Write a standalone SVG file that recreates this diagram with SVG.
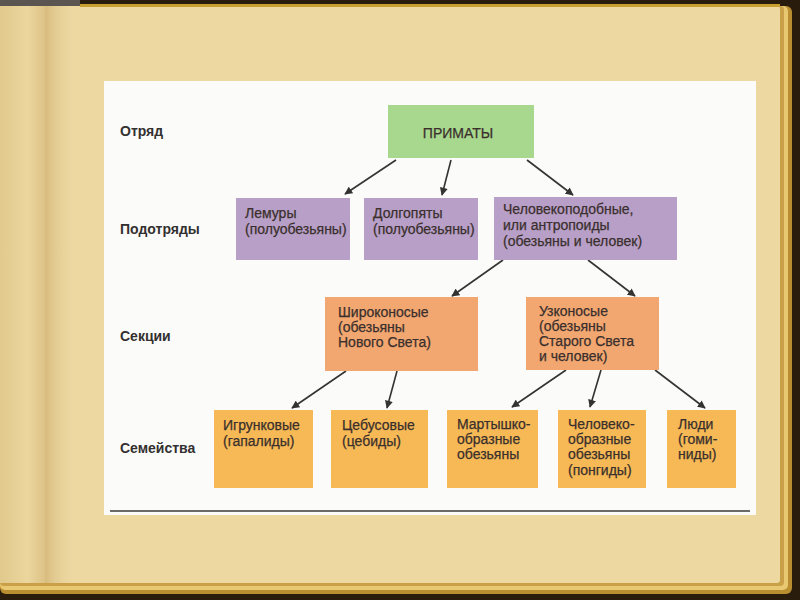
<svg xmlns="http://www.w3.org/2000/svg" width="800" height="600" viewBox="0 0 800 600">
  <defs>
    <style>
      .t { font-family: "Liberation Sans", Arial, sans-serif; font-size: 14px; fill: #3a2f2c; stroke: #3a2f2c; stroke-width: 0.25; }
      .lbl { font-family: "Liberation Sans", Arial, sans-serif; font-size: 14px; font-weight: bold; fill: #333030; }
      .g { fill: #a8d88e; }
      .p { fill: #b89fc8; }
      .o { fill: #f2a771; }
      .y { fill: #f6b956; }
      .c { stroke: #333; stroke-width: 1.6; fill: none; marker-end: url(#ah); }
    </style>
    <marker id="ah" viewBox="0 0 10 10" refX="9" refY="5" markerWidth="8.5" markerHeight="8" orient="auto" markerUnits="userSpaceOnUse">
      <path d="M0,0 L10,5 L0,10 Z" fill="#333"/>
    </marker>
    <linearGradient id="curl" x1="0" y1="0" x2="1" y2="0">
      <stop offset="0" stop-color="#e2c98c"/>
      <stop offset="0.6" stop-color="#ebd69e"/>
      <stop offset="1" stop-color="#dcc184"/>
    </linearGradient>
    <linearGradient id="sh" x1="0" y1="0" x2="1" y2="0">
      <stop offset="0" stop-color="#d9bd80"/>
      <stop offset="1" stop-color="#ebd8a2" stop-opacity="0"/>
    </linearGradient>
  </defs>

  <!-- book frame -->
  <g id="frame">
    <rect x="0" y="0" width="800" height="600" fill="#2a1c0c"/>
    <rect x="0" y="0" width="80" height="6" fill="#5a5550"/>
    <rect x="0" y="6" width="792" height="588" rx="6" fill="#b88e30"/>
    <rect x="0" y="6" width="788" height="584" rx="5" fill="#e8c870"/>
    <rect x="0" y="6" width="784" height="580" rx="4" fill="#c9a048"/>
    <rect x="0" y="6" width="780" height="577" rx="3" fill="#ecd8a0"/>
    <rect x="80" y="4" width="700" height="3" fill="#c9a030"/>
    <rect x="0" y="6" width="46" height="577" fill="url(#curl)"/>
    <rect x="46" y="6" width="30" height="577" fill="url(#sh)"/>
    <line x1="46" y1="6" x2="46" y2="583" stroke="#d6bb7e" stroke-width="1"/>
  </g>

  <!-- photo -->
  <g id="photo">
    <rect x="104" y="81" width="652" height="434" fill="#fbfbfa"/>
    <line x1="110" y1="511" x2="750" y2="511" stroke="#6a6a6a" stroke-width="2"/>
  </g>

  <!-- row labels -->
  <g id="labels">
    <text class="lbl" x="120" y="136">Отряд</text>
    <text class="lbl" x="120" y="234">Подотряды</text>
    <text class="lbl" x="120" y="341">Секции</text>
    <text class="lbl" x="120" y="453">Семейства</text>
  </g>

  <!-- connectors -->
  <g id="connectors">
    <line class="c" x1="396" y1="160" x2="345" y2="194"/>
    <line class="c" x1="451" y1="160" x2="442" y2="195"/>
    <line class="c" x1="527" y1="160" x2="573" y2="195"/>
    <line class="c" x1="503" y1="260" x2="452" y2="296"/>
    <line class="c" x1="588" y1="260" x2="635" y2="296"/>
    <line class="c" x1="346" y1="371" x2="292" y2="408"/>
    <line class="c" x1="397" y1="371" x2="387" y2="408"/>
    <line class="c" x1="566" y1="370" x2="512" y2="407"/>
    <line class="c" x1="601" y1="370" x2="590" y2="407"/>
    <line class="c" x1="655" y1="370" x2="705" y2="408"/>
  </g>

  <!-- nodes -->
  <g id="primates">
    <rect class="g" x="388" y="105" width="146" height="53"/>
    <text class="t" x="458" y="138" text-anchor="middle">ПРИМАТЫ</text>
  </g>

  <g id="lemurs">
    <rect class="p" x="236" y="198" width="114" height="62"/>
    <text class="t" x="245" y="218">Лемуры</text>
    <text class="t" x="245" y="234">(полуобезьяны)</text>
  </g>

  <g id="tarsiers">
    <rect class="p" x="364" y="198" width="114" height="62"/>
    <text class="t" x="373" y="218">Долгопяты</text>
    <text class="t" x="373" y="234">(полуобезьяны)</text>
  </g>

  <g id="anthropoids">
    <rect class="p" x="494" y="197" width="183" height="63"/>
    <text class="t" x="503" y="214">Человекоподобные,</text>
    <text class="t" x="503" y="230">или антропоиды</text>
    <text class="t" x="503" y="246">(обезьяны и человек)</text>
  </g>

  <g id="platyrrhini">
    <rect class="o" x="325" y="297" width="153" height="74"/>
    <text class="t" x="338" y="317">Широконосые</text>
    <text class="t" x="338" y="332">(обезьяны</text>
    <text class="t" x="338" y="347">Нового Света)</text>
  </g>

  <g id="catarrhini">
    <rect class="o" x="526" y="297" width="133" height="73"/>
    <text class="t" x="539" y="316">Узконосые</text>
    <text class="t" x="539" y="331">(обезьяны</text>
    <text class="t" x="539" y="346">Старого Света</text>
    <text class="t" x="539" y="361">и человек)</text>
  </g>

  <g id="callitrichidae">
    <rect class="y" x="214" y="410" width="99" height="78"/>
    <text class="t" x="223" y="430">Игрунковые</text>
    <text class="t" x="223" y="446">(гапалиды)</text>
  </g>

  <g id="cebidae">
    <rect class="y" x="331" y="410" width="97" height="78"/>
    <text class="t" x="342" y="430">Цебусовые</text>
    <text class="t" x="342" y="446">(цебиды)</text>
  </g>

  <g id="cercopithecidae">
    <rect class="y" x="447" y="410" width="91" height="78"/>
    <text class="t" x="457" y="429">Мартышко-</text>
    <text class="t" x="457" y="444">образные</text>
    <text class="t" x="457" y="459">обезьяны</text>
  </g>

  <g id="pongidae">
    <rect class="y" x="558" y="410" width="88" height="78"/>
    <text class="t" x="568" y="429">Человеко-</text>
    <text class="t" x="568" y="444">образные</text>
    <text class="t" x="568" y="459">обезьяны</text>
    <text class="t" x="568" y="475">(понгиды)</text>
  </g>

  <g id="hominidae">
    <rect class="y" x="667" y="410" width="69" height="78"/>
    <text class="t" x="678" y="429">Люди</text>
    <text class="t" x="678" y="444">(гоми-</text>
    <text class="t" x="678" y="459">ниды)</text>
  </g>
</svg>
